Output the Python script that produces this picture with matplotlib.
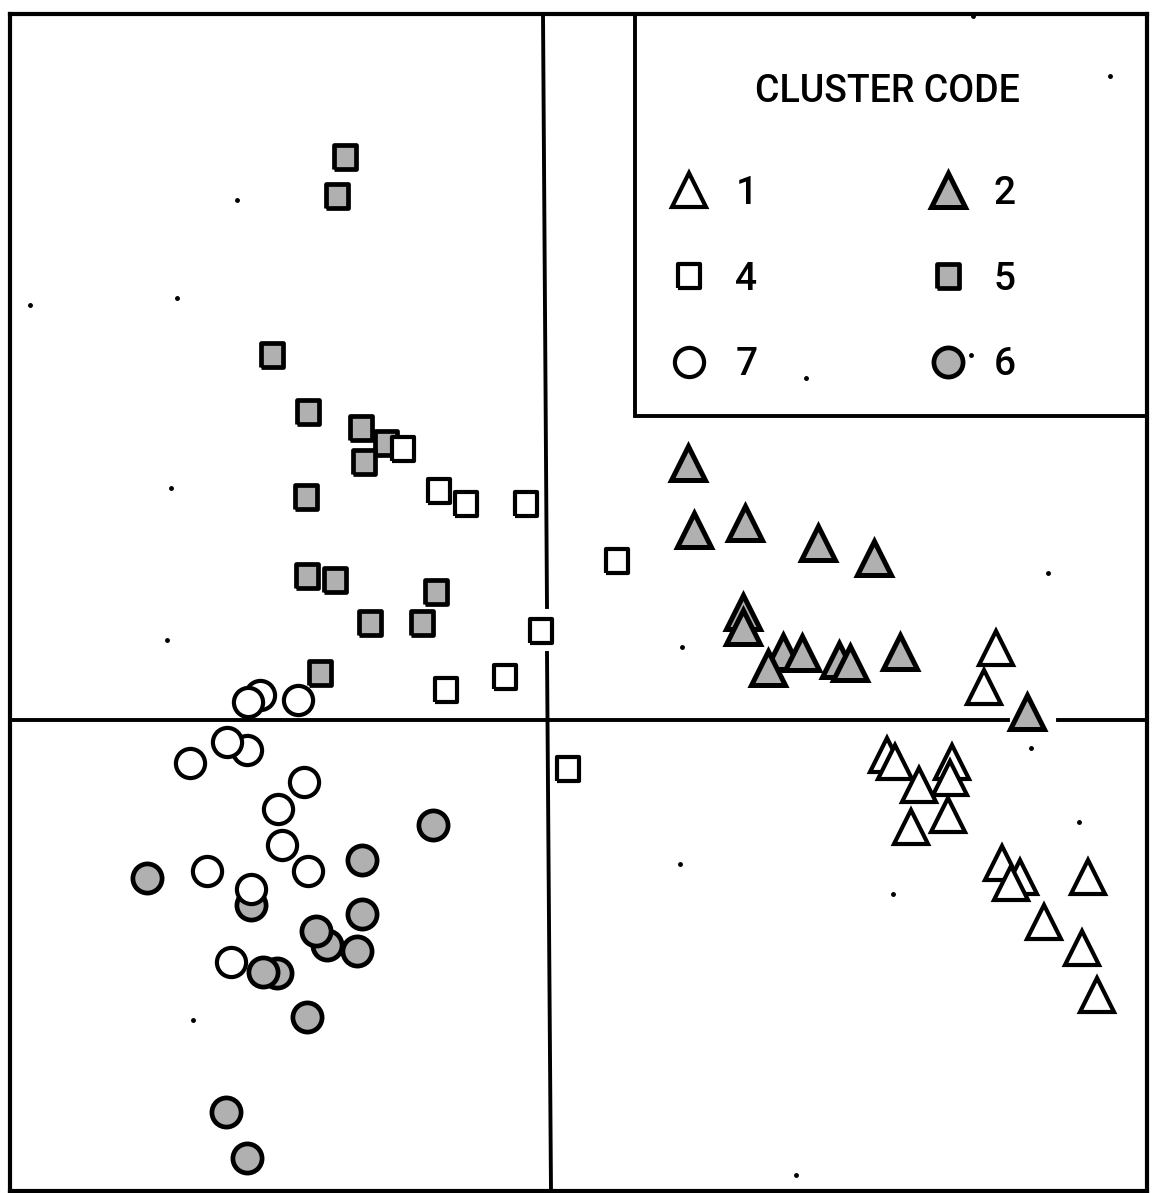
import matplotlib
matplotlib.use("Agg")
import matplotlib.pyplot as plt
import numpy as np

plt.rcParams['font.family'] = ['Roboto', 'DejaVu Sans']

# scores (x to the right, y up, the two cross lines are the zero axes)
c1_x = [4.48, 4.36, 3.39, 3.47, 4.04, 4.02, 3.71, 4.00, 3.63, 4.54, 4.72, 4.63, 5.40, 4.96, 5.34, 5.49]
c1_y = [0.72, 0.33, -0.35, -0.42, -0.42, -0.58, -0.65, -0.95, -1.07, -1.43, -1.57, -1.63, -1.57, -2.02, -2.28, -2.75]

c2_x = [1.40, 1.46, 1.97, 2.70, 3.26, 1.95, 1.95, 2.35, 2.20, 2.54, 2.91, 3.02, 3.52, 4.79]
c2_y = [2.57, 1.90, 1.97, 1.77, 1.62, 1.08, 0.93, 0.68, 0.52, 0.67, 0.60, 0.57, 0.68, 0.08]

c4_x = [-1.45, -1.09, -0.82, -0.22, 0.69, -0.07, -0.43, -1.02, 0.20]
c4_y = [2.71, 2.29, 2.16, 2.16, 1.59, 0.89, 0.43, 0.30, -0.49]

c5_x = [-2.03, -2.11, -2.76, -2.40, -1.87, -1.62, -1.84, -2.42, -2.41, -2.13, -1.12, -1.78, -1.26, -2.28]
c5_y = [5.63, 5.24, 3.65, 3.08, 2.92, 2.77, 2.58, 2.23, 1.44, 1.40, 1.28, 0.97, 0.97, 0.47]

c6_x = [-1.15, -4.01, -1.86, -2.97, -1.86, -2.21, -2.32, -1.91, -2.71, -2.85, -2.41, -3.22, -3.01]
c6_y = [-1.05, -1.58, -1.40, -1.85, -1.94, -2.25, -2.11, -2.31, -2.53, -2.52, -2.97, -3.92, -4.38]

c7_x = [-2.88, -3.00, -2.50, -3.01, -3.21, -3.58, -2.44, -2.70, -2.66, -3.41, -2.40, -2.97, -3.17]
c7_y = [0.25, 0.18, 0.20, -0.30, -0.22, -0.43, -0.62, -0.89, -1.25, -1.51, -1.51, -1.69, -2.42]

# stray specks on the original print
dot_x = [-3.11, -3.71, -5.18, -3.77, -3.81, -3.55, 1.32, 2.48, 5.31, 3.45, 5.00, 1.34, 4.25, 5.62, 2.58, 4.23, 4.83]
dot_y = [5.20, 4.22, 4.15, 2.32, 0.80, -3.00, -1.44, -4.55, -1.02, -1.74, 1.47, 0.73, 7.04, 6.44, 3.42, 3.65, -0.28]

fill_grey = '#b0b0b0'
rect = [(-0.47, -0.5), (0.47, -0.5), (0.47, 0.5), (-0.47, 0.5), (-0.47, -0.5)]

fig = plt.figure(figsize=(11.6, 11.93), dpi=100)
ax = fig.add_axes([10 / 1160, 2 / 1193, 1137 / 1160, 1177 / 1193])
ax.set_xlim(-5.38, 5.99)
ax.set_ylim(-4.71, 7.06)
ax.set_xticks([])
ax.set_yticks([])
for sp in ax.spines.values():
    sp.set_linewidth(3.0)

# zero axes (hand drawn, with gaps where symbols sit on them)
ax.plot([-0.05, -0.01, np.nan, -0.01, 0.03], [7.06, 1.13, np.nan, 0.67, -4.71], color='black', lw=2.8, zorder=1)
ax.plot([-5.38, 4.60, np.nan, 5.10, 5.99], [0, 0, np.nan, 0, 0], color='black', lw=2.8, zorder=1)

# key box
ax.plot([0.87, 0.87, 5.99], [7.06, 3.04, 3.04], color='black', lw=2.8, zorder=1, solid_joinstyle='miter')

ax.plot(dot_x, dot_y, linestyle='none', marker='o', ms=2.5, color='black', zorder=2)

h5, = ax.plot(c5_x, c5_y, linestyle='none', marker=rect, ms=17.5, mfc=fill_grey, mec='black', mew=3.4, label='5', zorder=3)
h4, = ax.plot(c4_x, c4_y, linestyle='none', marker=rect, ms=17.5, mfc='white', mec='black', mew=3.0, label='4', zorder=3)
h2, = ax.plot(c2_x, c2_y, linestyle='none', marker='^', ms=24, mfc=fill_grey, mec='black', mew=3.6, label='2', zorder=3)
h1, = ax.plot(c1_x, c1_y, linestyle='none', marker='^', ms=24, mfc='white', mec='black', mew=3.0, label='1', zorder=3)
h6, = ax.plot(c6_x, c6_y, linestyle='none', marker='o', ms=21, mfc=fill_grey, mec='black', mew=3.4, label='6', zorder=3)
h7, = ax.plot(c7_x, c7_y, linestyle='none', marker='o', ms=21, mfc='white', mec='black', mew=3.0, label='7', zorder=4)

ax.text(3.39, 6.29, 'CLUSTER CODE', fontsize=27, fontweight='medium', ha='center', va='center')
leg = ax.legend(handles=[h1, h4, h7, h2, h5, h6], ncol=2, frameon=False,
                loc='upper left', bbox_to_anchor=(1.22, 5.45), bbox_transform=ax.transData,
                borderpad=0, borderaxespad=0, fontsize=28, handlelength=1.0,
                handletextpad=0.68, columnspacing=4.4, labelspacing=1.25)
for t in leg.get_texts():
    t.set_fontweight('medium')

fig.savefig('out.png', dpi=100)
